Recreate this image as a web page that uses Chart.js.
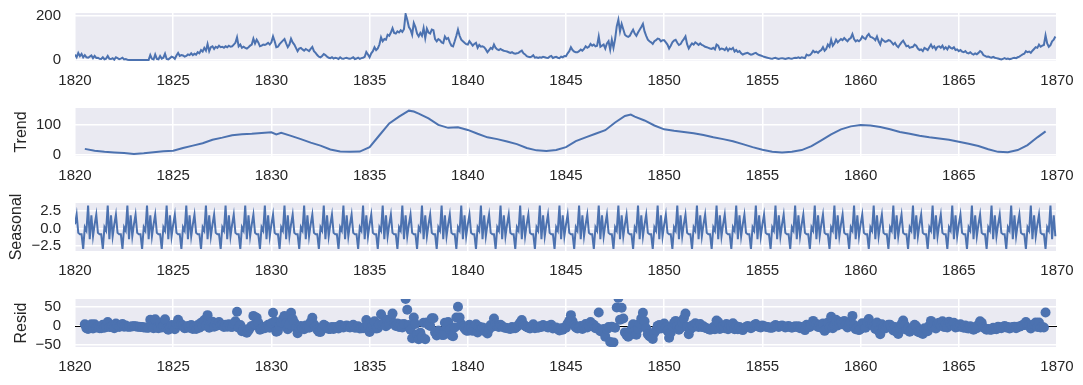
<!DOCTYPE html>
<html lang="en">
<head>
<meta charset="UTF-8">
<title>Seasonal decomposition</title>
<script src="https://cdn.jsdelivr.net/npm/chart.js"></script>
<style>
    body { margin: 0; background: #ffffff; }
    .wrap { position: relative; width: 1083px; height: 385px; }
    canvas { position: absolute; left: 0; }
</style>
</head>
<body>
<div class="wrap">
    <canvas id="observedChart" width="1083" height="96" style="top:0px"></canvas>
    <canvas id="trendChart" width="1083" height="96" style="top:95px"></canvas>
    <canvas id="seasonalChart" width="1083" height="96" style="top:190px"></canvas>
    <canvas id="residChart" width="1083" height="96" style="top:286px"></canvas>
</div>

<script>
    // monthly values, Jan 1820 .. Dec 1869 (one row per year)
    const observed = [
        24,12,32,17,27,12,22,12,10,15,20,8,
        18,9,10,5,4,12,3,6,18,5,4,8,
        1,12,8,3,6,10,2,4,1,0,0,0,
        0,0,0,0,0,0,0,0,0,0,22,5,
        2,25,5,3,18,6,10,28,4,2,8,15,
        12,5,20,32,18,22,20,15,18,25,22,30,
        22,28,24,35,30,45,38,55,42,72,40,58,
        62,50,60,55,65,58,60,55,62,58,65,60,
        62,70,78,103,62,70,55,60,55,52,58,65,
        70,97,75,92,80,62,65,70,68,72,78,70,
        80,107,85,58,60,72,80,88,95,75,58,70,
        97,80,70,55,40,52,55,48,42,50,45,40,
        50,59,40,32,22,15,12,18,27,22,15,10,
        8,12,6,10,8,4,12,6,5,8,10,6,
        5,8,12,4,6,10,5,8,10,14,36,25,
        12,30,40,58,45,52,70,103,85,95,92,115,
        110,125,145,123,120,130,125,135,128,140,209,183,
        150,138,115,168,150,120,107,123,110,145,100,142,
        125,120,138,135,95,85,95,90,80,77,107,95,
        100,80,65,62,85,110,138,110,92,85,78,72,
        70,85,75,65,73,78,55,68,60,62,58,48,
        35,45,55,50,70,55,48,45,50,45,42,40,
        38,35,32,35,30,28,30,32,38,42,30,25,
        17,14,12,15,21,10,12,9,12,10,14,12,
        10,9,15,18,9,12,14,10,8,15,12,18,
        17,30,40,58,45,38,35,35,40,47,42,50,
        62,55,60,73,65,70,62,65,107,60,65,70,
        52,75,85,47,92,55,95,153,183,130,164,140,
        115,108,105,110,125,138,120,110,125,138,150,164,
        130,110,92,85,80,73,85,90,97,95,85,90,
        90,80,70,52,65,80,88,92,78,68,72,85,
        95,107,72,52,65,75,70,80,75,68,75,68,
        65,60,58,55,52,50,55,48,70,65,47,52,
        50,45,55,42,52,48,55,38,45,36,40,30,
        24,28,30,32,28,24,26,30,32,26,22,20,
        17,14,12,10,8,6,5,8,10,6,4,7,
        8,6,4,6,8,6,5,8,10,9,12,8,
        12,10,8,24,20,22,30,42,35,38,32,40,
        45,58,42,50,70,60,92,65,75,92,80,88,
        95,90,100,92,85,95,100,118,95,85,90,85,
        92,107,100,95,110,118,105,103,98,90,107,85,
        70,95,88,82,85,90,88,80,70,78,65,58,
        70,80,88,75,62,65,55,58,60,70,65,52,
        45,48,40,55,50,45,58,70,55,62,48,60,
        62,55,65,50,58,48,62,55,52,58,45,48,
        40,45,38,35,40,32,30,35,28,24,30,26,
        32,40,35,22,18,14,15,12,10,14,10,8,
        6,4,2,5,8,4,6,3,5,8,10,8,
        12,15,20,25,28,40,35,38,32,42,50,58,
        55,70,60,65,68,112,75,60,67,85,92,107
    ];

    // trend (decimal year, value)
    const trendYears = [
        1820.5,1821,1821.5,1822,1822.5,1823,1823.5,1824,1824.5,1825,1825.5,1826,1826.5,1827,1827.5,
        1828,1828.5,1829,1829.5,1830,1830.25,1830.5,1831,1831.5,1832,1832.5,1833,1833.5,1834,1834.5,
        1835,1835.5,1836,1836.5,1837,1837.25,1837.5,1838,1838.5,1839,1839.5,1840,1840.5,1841,1841.5,
        1842,1842.5,1843,1843.5,1844,1844.5,1845,1845.5,1846,1846.5,1847,1847.5,1848,1848.3,1848.5,
        1849,1849.5,1850,1850.5,1851,1851.5,1852,1852.5,1853,1853.5,1854,1854.5,1855,1855.5,1856,
        1856.5,1857,1857.5,1858,1858.5,1859,1859.5,1860,1860.5,1861,1861.5,1862,1862.5,1863,1863.5,
        1864,1864.5,1865,1865.5,1866,1866.5,1867,1867.5,1868,1868.5,1869,1869.42
    ];
    const trendValues = [
        19,13,9,7,5,2,4,8,11,13,22,30,38,50,57,
        65,68,70,73,75,68,73,63,52,40,30,17,10,9,10,
        25,65,105,128,148,145,138,122,100,90,92,83,70,58,52,
        44,35,22,14,12,15,25,45,58,70,82,108,130,135,128,
        115,98,85,80,76,72,66,58,52,45,35,25,16,9,7,
        9,15,28,48,68,85,95,100,98,93,85,76,70,63,58,
        54,50,43,36,29,18,9,8,15,32,58,78
    ];

    // one year of the seasonal component (Jan..Dec), repeats every year
    const seasonalPattern = [0.6, 2.0, -0.6, -0.8, -0.8, -2.9, 0.2, -0.3, 3.3, -1.5, 1.9, -1.1];

    // residuals, Jul 1820 .. Jun 1869
    const resid = [
        4,-6,-8,-2,4,-7,
        4,-4,-2,-6,-6,3,-5,-2,10,-3,-3,1,
        -6,6,2,-3,1,5,-2,1,-2,-2,-2,-1,
        -1,-1,-2,-2,-3,-3,-4,-4,-5,-5,16,-2,
        -6,17,-4,-6,8,-4,0,17,-7,-10,-4,2,
        -1,-9,5,16,1,4,0,-6,-5,0,-5,2,
        -8,-3,-8,2,-5,8,0,15,1,28,-5,10,
        11,-2,7,1,10,2,3,-3,3,-2,4,-2,
        -3,5,12,37,-5,2,-14,-9,-15,-18,-12,-5,
        0,26,4,21,8,-10,-8,-3,-6,-3,3,-5,
        7,34,12,-15,-13,0,9,18,26,7,-9,4,
        34,18,9,-5,-19,-5,0,-5,-9,1,-2,-5,
        10,21,4,-2,-10,-15,-16,-8,3,0,-5,-8,
        -8,-3,-8,-3,-4,-7,2,-3,-4,-1,1,-3,
        -4,-1,3,-5,-4,-1,-7,-6,-6,-5,15,1,
        -16,-4,0,12,-7,-6,4,30,5,8,-1,16,
        5,16,32,6,0,6,-3,4,-4,5,70,42,
        2,-10,-32,22,5,-23,-35,-18,-29,8,-35,9,
        3,0,20,20,-17,-25,-12,-15,-23,-24,8,-2,
        10,-10,-25,-27,-4,22,50,22,5,-1,-7,-12,
        -13,3,-5,-13,-3,4,-17,-2,-8,-4,-6,-15,
        -20,-9,2,-2,19,5,-1,-3,3,-1,-4,-5,
        -6,-7,-8,-3,-6,-6,-2,2,9,15,4,0,
        -3,-5,-7,-3,4,-6,-3,-5,-1,-3,2,0,
        -2,-4,1,3,-7,-5,-4,-9,-12,-6,-10,-4,
        -5,6,13,28,12,2,-4,-7,-5,0,-8,-3,
        5,-4,-1,10,0,3,-6,-5,35,-14,-11,-8,
        -28,-9,-3,-42,-2,-43,-5,48,73,16,47,19,
        -17,-24,-28,-24,-9,4,-14,-23,-8,6,19,34,
        12,-6,-22,-27,-29,-34,-18,-11,0,2,-7,0,
        6,-4,-13,-31,-18,-1,8,13,-1,-10,-5,9,
        20,32,-2,-22,-9,1,-3,7,3,-3,5,-3,
        -1,-5,-6,-8,-10,-9,-3,-9,14,10,-8,-2,
        -2,-6,5,-9,2,-1,7,-9,-1,-9,-3,-8,
        -11,-6,-3,0,-3,-6,-3,2,5,0,-3,-4,
        1,-1,-2,-3,-4,-5,-5,-1,2,-1,-3,0,
        1,-1,-4,-2,0,-3,-5,-3,-1,-3,-1,-6,
        -3,-7,-11,3,-3,-3,3,13,4,5,-3,3,
        -5,6,-13,-8,9,-4,24,-6,1,16,1,7,
        10,4,13,4,-4,5,9,26,2,-9,-5,-11,
        -8,7,0,-5,10,18,6,4,-1,-8,9,-13,
        -22,4,-2,-7,-3,3,3,-4,-12,-3,-15,-21,
        -6,5,14,2,-10,-6,-15,-11,-8,3,-1,-15,
        -17,-13,-21,-6,-10,-14,0,13,-2,6,-7,6,
        8,1,12,-3,6,-4,11,4,2,8,-4,0,
        -2,4,-3,-5,1,-6,-7,-1,-7,-10,-3,-6,
        3,12,8,-4,-7,-10,-8,-10,-10,-5,-8,-9,
        -2,-4,-6,-3,0,-4,-3,-7,-5,-3,-2,-6,
        -2,-2,0,2,2,10,2,2,-7,0,4,9,
        -3,9,-4,-3,-4,35
    ];

    const xTicks = [1820, 1825, 1830, 1835, 1840, 1845, 1850, 1855, 1860, 1865, 1870];

    const blue = "#4C72B0";
    const textColor = "#262626";
    Chart.defaults.font.family = "Liberation Sans, Arial, sans-serif";
    Chart.defaults.font.size = 15;
    Chart.defaults.color = textColor;

    const panelBg = {
        id: "panelBg",
        beforeDraw(chart) {
            const a = chart.chartArea;
            const ctx = chart.ctx;
            ctx.save();
            ctx.fillStyle = "#EAEAF2";
            ctx.fillRect(a.left, a.top, a.right - a.left, a.bottom - a.top);
            ctx.restore();
        }
    };

    // black line at zero, under the residual dots
    const zeroLine = {
        id: "zeroLine",
        beforeDatasetsDraw(chart) {
            const a = chart.chartArea;
            const y = Math.round(chart.scales.y.getPixelForValue(0)) + 0.5;
            const ctx = chart.ctx;
            ctx.save();
            ctx.strokeStyle = "#000000";
            ctx.lineWidth = 1;
            ctx.beginPath();
            ctx.moveTo(a.left, y);
            ctx.lineTo(a.right, y);
            ctx.stroke();
            ctx.restore();
        }
    };

    const minus = s => s.replace("-", "\u2212");

    function makePanel(id, datasets, yMin, yMax, yTicks, fmt, title, titlePad, extraPlugins) {
        const grid = { color: "#ffffff", lineWidth: 1.5, drawTicks: false };
        return new Chart(document.getElementById(id), {
            data: { datasets },
            options: {
                responsive: false,
                animation: false,
                events: [],
                layout: { padding: { top: 13, right: 26, left: 0, bottom: 0 } },
                plugins: { legend: { display: false }, tooltip: { enabled: false } },
                scales: {
                    x: {
                        type: "linear",
                        min: 1820,
                        max: 1870,
                        grid: grid,
                        border: { display: false },
                        afterBuildTicks: s => { s.ticks = xTicks.map(v => ({ value: v })); },
                        afterFit: s => { s.height = 35; s.paddingLeft = 0; s.paddingRight = 0; },
                        ticks: { padding: 11, maxRotation: 0, autoSkip: false, callback: v => String(v) }
                    },
                    y: {
                        min: yMin,
                        max: yMax,
                        grid: grid,
                        border: { display: false },
                        afterBuildTicks: s => { s.ticks = yTicks.map(v => ({ value: v })); },
                        afterFit: s => { s.width = 75; s.paddingTop = 0; s.paddingBottom = 0; },
                        ticks: { padding: 14, autoSkip: false, callback: fmt },
                        title: {
                            display: title !== "",
                            text: title,
                            font: { size: 16 },
                            padding: { top: titlePad, bottom: 0 }
                        }
                    }
                }
            },
            plugins: [panelBg].concat(extraPlugins || [])
        });
    }

    const lineStyle = { type: "line", borderColor: blue, borderWidth: 2, pointRadius: 0, tension: 0 };

    makePanel("observedChart",
        [Object.assign({ data: observed.map((v, i) => ({ x: 1820 + i / 12, y: v })) }, lineStyle)],
        -5, 214, [0, 200], v => minus(String(v)), "", 0);

    makePanel("trendChart",
        [Object.assign({ data: trendValues.map((v, i) => ({ x: trendYears[i], y: v })) }, lineStyle)],
        -5, 157, [0, 100], v => minus(String(v)), "Trend", 12);

    makePanel("seasonalChart",
        [Object.assign({ data: observed.map((v, i) => ({ x: 1820 + i / 12, y: seasonalPattern[i % 12] })) }, lineStyle)],
        -3.2, 3.65, [-2.5, 0, 2.5], v => minus(v.toFixed(1)), "Seasonal", 7);

    makePanel("residChart",
        [{
            type: "scatter",
            data: resid.map((v, i) => ({ x: 1820.5 + i / 12, y: v })),
            backgroundColor: blue,
            borderWidth: 0,
            pointRadius: 5
        }],
        -55, 70, [-50, 0, 50], v => minus(String(v)), "Resid", 12, [zeroLine]);
</script>
</body>
</html>
